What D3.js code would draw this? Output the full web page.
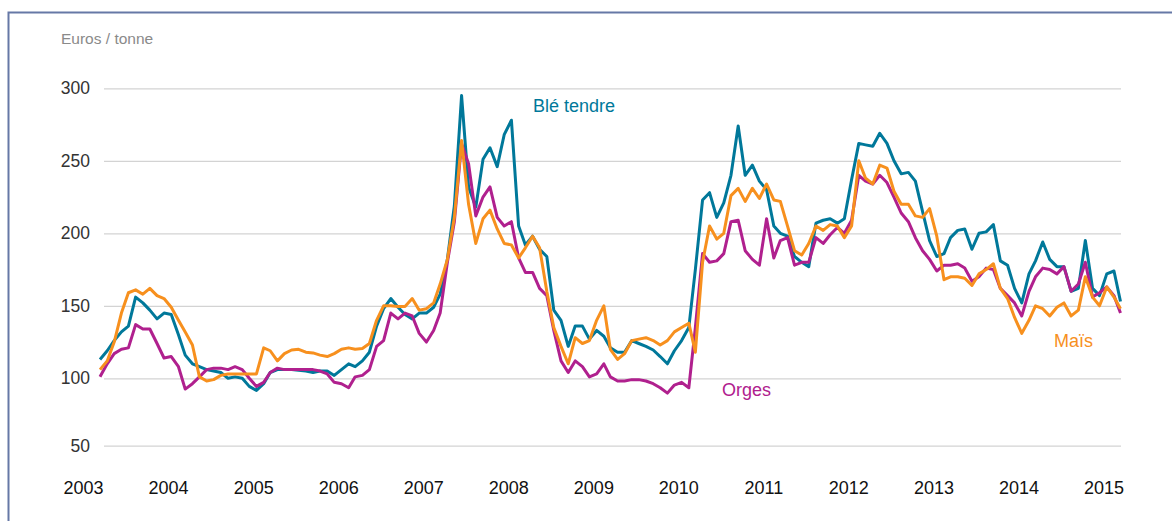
<!DOCTYPE html>
<html><head><meta charset="utf-8">
<script src="https://cdn.jsdelivr.net/npm/d3@7"></script>
<style>body{margin:0;background:#fff} svg{display:block}</style>
</head><body><svg id="c" width="1172" height="521"></svg>
<script>
// ---- data (monthly, Mar 2003 -> Mar 2015), euros / tonne ----
const startYear = 2003, startMonth = 2; // March 2003
const ble = [
113,119,126,132,136,156,152,147,141,145,
144,130,116,110,108,106,105,104,100,101,100,94,
91,96,104,106,106,106,105.5,105,104,105,105,102,
106,110,108,112,118,136,148,155,149,144,141,145,
145,149,158,182,219,295,232,218,251,259,246,268,
278,205,192,198,189,184,147,140,122,136,136,127,
133,129,121,118,118,126,124,122,119.5,115,110,119,
126,135,175,223,228,211,221,240,274,240,247,236,
230,205,200,198,184,180,177,207,209,210,207,210,
237,262,261,260,269,262,250,241,242,236,215,195,
184,186,197,202,203,189,200,201,206,181,178,162,
152,172,181,194,182,177,177,160,162,195,162,157,
172,174,153];
const mais = [
106,112,125,145,159,161,158,162,157,155,
149,140,132,123,101,98,99,102,103,103,103,103,
103,121,119,112,117,119.5,120,118,117.5,116,115,117,
120,121,120,120.5,124,140,150,150,149.5,149.5,155,147,
148,152,165,182,211,264,220,193,210,216,203,193,
192,183,190,198,190,160,135,122,110,128,124,126,
140,150,120,113,117,126,127,128,126,123,126,132,
135,138,118,180,205,196,200,226,231,222,231,224,
234,223,222,205,188,185,193,205,202,206,205,197,
205,250,238,234,247,245,229,220,220,212,211,217,
198,168,170,170,169,164,172,175,179,162,155,142,
131,140,150,148,143,149,152,143,147,170,156,150,
163,156,148];
const orges = [
101,110,117,120,121,137,134,134,124,114,
115,108,92,96,101,106,107,107,106,108,106,100,
94,97,104,107,106,106,106,106,106,105,103,97,
96,93,101,102,106,122,126,145,141,145,143,131,
125,133,145,180,208,262,248,212,225,232,211,205,
208,183,173,173,162,157,133,112,104,112,108,101,
103,110,101,98,98,99,99,98,96,93,89,95,
97,93,135,186,180,181,186,208,209,188,182,178,
210,183,195,197,178,180,180,197,193,199,204,200,
209,240,236,234,240,235,225,214,208,197,188,182,
174,178,178,179,176,167,170,176,175,162,157,152,
143,160,170,176,175,172,177,160,165,180,156,159,
163,157,145];
const yTicks = [50,100,150,200,250,300];
const yearTicks = [2003,2004,2005,2006,2007,2008,2009,2010,2011,2012,2013,2014,2015];
const seriesNames = ["Blé tendre","Orges","Maïs"];
const colors = {"Blé tendre":"#00789a","Orges":"#b0208e","Maïs":"#f7901e"};

const FONT = '"Liberation Sans", Arial, Helvetica, sans-serif';
const dates = ble.map((_, i) => new Date(startYear, startMonth + i, 15));

const svg = d3.select("#c");
// frame
svg.append("rect").attr("x",8.5).attr("y",12.5).attr("width",1300).attr("height",700)
  .attr("fill","none").attr("stroke","#6678a6").attr("stroke-width",2);

const x = d3.scaleTime().domain([new Date(2003,0,1), new Date(2015,0,1)]).range([83, 1103.5]);
const y = d3.scaleLinear().domain([50,100,300]).range([445.7,378.3,88.3]);

// y axis + grid
const gy = svg.append("g").attr("transform","translate(104,0)")
  .call(d3.axisLeft(y).tickValues(yTicks).tickSize(-(1121-104)).tickPadding(14).tickFormat(d3.format("d")));
gy.attr("font-family", FONT).attr("font-size", 17.5);
gy.select(".domain").remove();
gy.selectAll(".tick line").attr("stroke","#d3d3d3").attr("stroke-width",1.2);
gy.selectAll(".tick text").attr("fill","#333");

// x axis
const gx = svg.append("g").attr("transform","translate(0,494)")
  .call(d3.axisBottom(x).tickValues(yearTicks.map(yr => new Date(yr,0,1))).tickFormat(d3.timeFormat("%Y")).tickSize(0).tickPadding(0));
gx.attr("font-family", FONT).attr("font-size", 18);
gx.select(".domain").remove();
gx.selectAll(".tick text").attr("dy", 0).attr("fill","#111");

// unit label
svg.append("text").attr("x",61).attr("y",44).attr("font-family",FONT).attr("font-size",15.5)
  .attr("fill","#8a8a8a").text("Euros / tonne");

// lines
const series = [
  {name:"Blé tendre", values: ble},
  {name:"Orges", values: orges},
  {name:"Maïs", values: mais}
];
const line = d3.line().x((d,i) => x(dates[i])).y(d => y(d)).defined(d => d != null);
svg.append("g").selectAll("path").data(series).join("path")
  .attr("d", s => line(s.values))
  .attr("fill","none").attr("stroke", s => colors[s.name])
  .attr("stroke-width",3).attr("stroke-linejoin","round");

// series labels
const labels = [
  {name:"Blé tendre", x:533, y:112},
  {name:"Orges", x:722, y:396},
  {name:"Maïs", x:1054, y:347}
];
svg.append("g").selectAll("text").data(labels).join("text")
  .attr("x", d => d.x).attr("y", d => d.y)
  .attr("font-family", FONT).attr("font-size", 18)
  .attr("fill", d => colors[d.name]).text(d => d.name);
</script></body></html>
